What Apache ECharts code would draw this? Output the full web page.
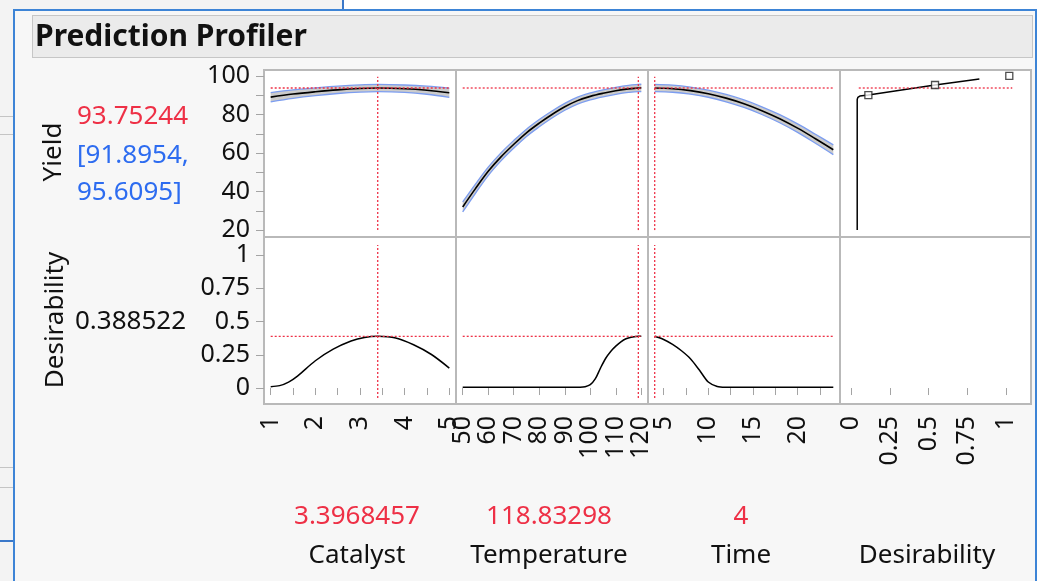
<!DOCTYPE html>
<html>
<head>
<meta charset="utf-8">
<script src="https://cdn.jsdelivr.net/npm/echarts@6/dist/echarts.min.js"></script>
<style>
  html, body { margin: 0; padding: 0; width: 1040px; height: 581px; overflow: hidden; background: #fff; }
  .box { position: absolute; box-sizing: border-box; }
  #chart { position: absolute; left: 0; top: 0; width: 1040px; height: 581px; }
</style>
</head>
<body>
<!-- window chrome behind the report -->
<div class="box" style="left:0;top:0;width:344px;height:10px;background:#f3f3f3;border-right:2px solid #3a78c9;"></div>
<div class="box" style="left:0;top:10px;width:14px;height:571px;background:#f3f3f3;"></div>
<div class="box" style="left:0;top:116px;width:14px;height:1px;background:#c4c4c4;"></div>
<div class="box" style="left:0;top:134px;width:14px;height:1px;background:#c4c4c4;"></div>
<div class="box" style="left:0;top:467px;width:14px;height:1px;background:#c4c4c4;"></div>
<div class="box" style="left:0;top:487px;width:14px;height:1px;background:#c4c4c4;"></div>
<div class="box" style="left:0;top:540px;width:14px;height:2px;background:#3a78c9;"></div>
<div class="box" style="left:13px;top:9px;width:1024px;height:580px;background:#f7f7f7;border:2px solid #3d84d6;border-bottom:none;"></div>
<div class="box" style="left:32px;top:15px;width:1001px;height:43px;background:#ebebeb;border:1px solid #c6c6c6;"></div>
<div id="chart"></div>
<script>
const catalystX = [1, 1.5, 2, 2.5, 3, 3.4, 4, 4.5, 5];
const catalystYield = [89.0, 90.6, 91.8, 92.8, 93.5, 93.75, 93.4, 92.6, 91.3];
const catalystHalf = [2.4, 2.2, 2.0, 1.9, 1.86, 1.86, 1.9, 2.1, 2.4];

const temperatureX = [50, 55, 60, 65, 70, 75, 80, 85, 90, 95, 100, 105, 110, 115, 118.83, 120];
const temperatureYield = [32, 41.5, 50.5, 58, 64.5, 70.5, 75.5, 80, 84, 87.2, 89.4, 91.0, 92.3, 93.3, 93.75, 93.8];
const temperatureHalf = [2.6, 2.4, 2.2, 2.1, 2.0, 1.9, 1.9, 1.85, 1.8, 1.8, 1.8, 1.8, 1.82, 1.85, 1.86, 1.9];

const timeX = [4, 6, 8, 10, 12, 14, 16, 18, 20, 22, 24];
const timeYield = [93.75, 93.4, 92.4, 90.8, 88.5, 85.6, 82.0, 77.8, 72.9, 67.4, 61.7];
const timeHalf = [1.86, 1.85, 1.85, 1.85, 1.9, 1.95, 2.0, 2.1, 2.2, 2.35, 2.55];

const catalystDesX = [1, 1.2, 1.4, 1.6, 2.0, 2.4, 2.8, 3.1, 3.4, 3.8, 4.2, 4.6, 5];
const catalystDes = [0.01, 0.018, 0.045, 0.09, 0.205, 0.292, 0.353, 0.38, 0.3885, 0.376, 0.325, 0.252, 0.15];

const temperatureDesX = [50, 60, 70, 80, 90, 96, 98, 100, 102, 104, 106, 108, 110, 112, 114, 116, 118.83, 120];
const temperatureDes = [0.005, 0.005, 0.005, 0.005, 0.005, 0.006, 0.01, 0.025, 0.07, 0.15, 0.222, 0.275, 0.315, 0.347, 0.37, 0.382, 0.3885, 0.389];

const timeDesX = [4, 5, 6, 7, 8, 9, 10, 11, 12, 14, 16, 20, 24];
const timeDes = [0.3885, 0.365, 0.328, 0.28, 0.22, 0.135, 0.045, 0.012, 0.006, 0.005, 0.005, 0.005, 0.005];

// desirability function for Yield (x = desirability, y = yield)
const desFnD = [0.04, 0.04, 0.044, 0.057, 0.112, 0.542, 0.828];
const desFnYield = [20, 87.8, 88.9, 89.6, 90.1, 95.3, 98.4];
const handleD = [0.112, 0.542, 1.021];
const handleYield = [90.1, 95.3, 100.1];

const currentX = [3.3968457, 118.83298, 4];
const factorRange = [[1, 5], [50, 120], [4, 24]];
const predYield = 93.75244;
const predDes = 0.388522;
const yieldSpan = [20, 99.6];
const desSpan = [-0.075, 1.075];
const desLineSpan = [0.05, 1.04];

const factorNames = ['Catalyst', 'Temperature', 'Time', 'Desirability'];
const factorValues = ['3.3968457', '118.83298', '4', ''];

// axes
const xMin = [0.85, 47.375, 3.25, -0.071];
const xMax = [5.15, 122.625, 24.75, 1.161];
const xTickVals = [[1, 1.5, 2, 2.5, 3, 3.5, 4, 4.5, 5], [50, 60, 70, 80, 90, 100, 110, 120], [5, 7.5, 10, 12.5, 15, 17.5, 20, 22.5], [0, 0.25, 0.5, 0.75, 1]];
const xLabelVals = [[1, 2, 3, 4, 5], [50, 60, 70, 80, 90, 100, 110, 120], [5, 10, 15, 20], [0, 0.25, 0.5, 0.75, 1]];
const yMin = [16.4, -0.12];
const yMax = [103.1, 1.135];
const yTickVals = [[20, 30, 40, 50, 60, 70, 80, 90, 100], [0, 0.25, 0.5, 0.75, 1]];
const yLabelVals = [[20, 40, 60, 80, 100], [0, 0.25, 0.5, 0.75, 1]];

// ---- layout ----
const colLeft = [264, 456, 648, 840];
const colWidth = [192, 192, 192, 191];
const rowTop = [70, 237];
const rowHeight = 167;

const FONT = '"Noto Sans", "Open Sans", sans-serif';
const RED = '#ee3046';
const BLUE = '#2d6cf0';
const INK = '#111';

const chart = echarts.init(document.getElementById('chart'));

const grids = [], xAxes = [], yAxes = [], series = [];
for (let r = 0; r < 2; r++) {
  for (let c = 0; c < 4; c++) {
    grids.push({
      left: colLeft[c], top: rowTop[r], width: colWidth[c], height: rowHeight,
      show: true, backgroundColor: '#fff', borderColor: '#b9b9b9', borderWidth: 2,
      outerBoundsMode: 'none'
    });
    const idx = r * 4 + c;
    xAxes.push({
      type: 'value', gridIndex: idx, min: xMin[c], max: xMax[c], show: r === 1,
      axisLine: { show: false }, splitLine: { show: false },
      axisTick: { customValues: xTickVals[c], length: 7, lineStyle: { color: '#a4a4a4', width: 1 } },
      axisLabel: { customValues: xLabelVals[c], rotate: 90, margin: 12, fontSize: 25, fontFamily: FONT, color: INK }
    });
    yAxes.push({
      type: 'value', gridIndex: idx, min: yMin[r], max: yMax[r], show: c === 0,
      axisLine: { show: false }, splitLine: { show: false },
      axisTick: { customValues: yTickVals[r], length: 8, lineStyle: { color: '#a4a4a4', width: 1 } },
      axisLabel: { customValues: yLabelVals[r], margin: 14, fontSize: 25, fontFamily: FONT, color: INK }
    });
  }
}

function zip(xs, ys) { return xs.map((x, i) => [x, ys[i]]); }

function redLine(idx, pts) {
  return {
    type: 'line', xAxisIndex: idx, yAxisIndex: idx, data: pts, symbol: 'none', silent: true, z: 6,
    lineStyle: { color: RED, width: 1.3, type: [2, 2] }
  };
}

const profiles = [
  [catalystX, catalystYield, catalystHalf, catalystDesX, catalystDes],
  [temperatureX, temperatureYield, temperatureHalf, temperatureDesX, temperatureDes],
  [timeX, timeYield, timeHalf, timeDesX, timeDes]
];

profiles.forEach(([xs, ys, hw, dx, dy], c) => {
  const top = c, bot = 4 + c;
  const hi = ys.map((y, i) => y + hw[i]);
  const lo = ys.map((y, i) => y - hw[i]);
  // grey confidence band between the limits
  series.push({
    type: 'custom', xAxisIndex: top, yAxisIndex: top, silent: true, z: 2, data: [0],
    renderItem: (params, api) => {
      const up = xs.map((x, i) => api.coord([x, hi[i]]));
      const dn = xs.map((x, i) => api.coord([x, lo[i]])).reverse();
      return { type: 'polygon', shape: { points: up.concat(dn) }, style: { fill: '#cbcbcb' } };
    }
  });
  [hi, lo].forEach(lim => series.push({
    type: 'line', xAxisIndex: top, yAxisIndex: top, data: zip(xs, lim),
    symbol: 'none', smooth: 0.35, silent: true, z: 3, lineStyle: { color: '#7c9df0', width: 1.3 }
  }));
  series.push({
    type: 'line', xAxisIndex: top, yAxisIndex: top, data: zip(xs, ys),
    symbol: 'none', smooth: 0.35, silent: true, z: 4, lineStyle: { color: '#000', width: 1.6 }
  });
  series.push(redLine(top, [[currentX[c], yieldSpan[0]], [currentX[c], yieldSpan[1]]]));
  series.push(redLine(top, [[factorRange[c][0], predYield], [factorRange[c][1], predYield]]));

  series.push({
    type: 'line', xAxisIndex: bot, yAxisIndex: bot, data: zip(dx, dy),
    symbol: 'none', smooth: 0.3, silent: true, z: 3, lineStyle: { color: '#000', width: 1.5 }
  });
  series.push(redLine(bot, [[currentX[c], desSpan[0]], [currentX[c], desSpan[1]]]));
  series.push(redLine(bot, [[factorRange[c][0], predDes], [factorRange[c][1], predDes]]));
});

// desirability function panel
series.push({
  type: 'line', xAxisIndex: 3, yAxisIndex: 3, data: zip(desFnD, desFnYield),
  symbol: 'none', silent: true, z: 3, lineStyle: { color: '#000', width: 1.5 }
});
series.push(redLine(3, [[desLineSpan[0], predYield], [desLineSpan[1], predYield]]));
series.push({
  type: 'scatter', xAxisIndex: 3, yAxisIndex: 3, data: zip(handleD, handleYield),
  symbol: 'rect', symbolSize: 7, silent: true, z: 7,
  itemStyle: { color: '#fff', borderColor: '#222', borderWidth: 1.3 }
});

function text(x, y, str, opts) {
  return Object.assign({
    type: 'text', x: x, y: y, silent: true, z: 10,
    style: Object.assign({ text: str, fill: INK, fontSize: 26, fontFamily: FONT, align: 'left', verticalAlign: 'middle' }, opts && opts.style)
  }, opts && opts.el);
}

const graphics = [
  text(35, 37, 'Prediction Profiler', { style: { fontSize: 30, fontWeight: 'bold' } }),
  text(54, 152, 'Yield', { style: { align: 'center' }, el: { rotation: Math.PI / 2 } }),
  text(56, 320, 'Desirability', { style: { align: 'center' }, el: { rotation: Math.PI / 2 } }),
  text(77, 117, String(predYield), { style: { fill: RED } }),
  text(77, 156, '[91.8954,', { style: { fill: BLUE } }),
  text(77, 193, '95.6095]', { style: { fill: BLUE } }),
  text(75, 322, String(predDes))
];
const valueCenters = [357, 549, 741, 927];
factorNames.forEach((name, c) => {
  if (factorValues[c]) graphics.push(text(valueCenters[c], 517, factorValues[c], { style: { fill: RED, align: 'center' } }));
  graphics.push(text(valueCenters[c], 556, name, { style: { align: 'center' } }));
});

chart.setOption({
  backgroundColor: 'transparent',
  animation: false,
  grid: grids,
  xAxis: xAxes,
  yAxis: yAxes,
  series: series,
  graphic: graphics
});
</script>
</body>
</html>
